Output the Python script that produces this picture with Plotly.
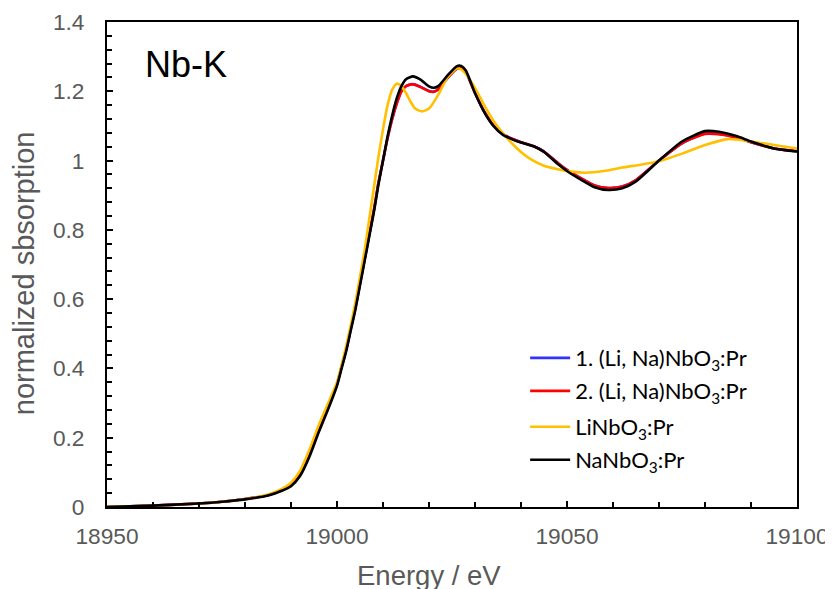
import plotly.graph_objects as go

# ---- data ----
energy_na = [18950, 18960, 18970, 18975, 18980, 18985, 18988, 18990, 18992, 18994, 18996, 18998,
             19000, 19001, 19002, 19003, 19004, 19005, 19006, 19007, 19008, 19009, 19010, 19011,
             19012, 19013, 19014, 19015, 19016.5, 19018, 19020, 19021, 19022, 19024, 19026, 19027,
             19028, 19030, 19032, 19034, 19036, 19038, 19040, 19043, 19045, 19048, 19050, 19053,
             19056, 19059, 19062, 19065, 19070, 19075, 19080, 19083, 19087, 19090, 19095, 19100]
na_nbo3 = [0.0, 0.004, 0.01, 0.015, 0.022, 0.033, 0.047, 0.06, 0.09, 0.145, 0.215, 0.28,
           0.35, 0.40, 0.45, 0.51, 0.57, 0.64, 0.71, 0.78, 0.85, 0.93, 1.0, 1.07,
           1.13, 1.18, 1.215, 1.235, 1.243, 1.235, 1.214, 1.21, 1.215, 1.245, 1.272, 1.273,
           1.26, 1.195, 1.14, 1.1, 1.075, 1.062, 1.052, 1.04, 1.025, 0.99, 0.97, 0.945,
           0.923, 0.915, 0.92, 0.94, 1.0, 1.055, 1.085, 1.083, 1.07, 1.055, 1.035, 1.026]

lina_2 = [0.0, 0.004, 0.01, 0.015, 0.023, 0.034, 0.049, 0.063, 0.096, 0.155, 0.228, 0.292,
          0.355, 0.405, 0.455, 0.515, 0.575, 0.645, 0.715, 0.785, 0.855, 0.935, 1.0, 1.065,
          1.12, 1.165, 1.2, 1.215, 1.22, 1.213, 1.2, 1.198, 1.205, 1.238, 1.265, 1.266,
          1.255, 1.195, 1.142, 1.102, 1.077, 1.063, 1.053, 1.04, 1.026, 0.993, 0.973, 0.949,
          0.928, 0.921, 0.925, 0.944, 1.0, 1.05, 1.077, 1.076, 1.066, 1.053, 1.035, 1.027]

lina_1 = [0.0, 0.004, 0.01, 0.015, 0.023, 0.034, 0.049, 0.063, 0.096, 0.154, 0.227, 0.291,
          0.355, 0.405, 0.455, 0.515, 0.575, 0.645, 0.715, 0.785, 0.855, 0.935, 1.0, 1.065,
          1.12, 1.165, 1.2, 1.215, 1.221, 1.214, 1.201, 1.199, 1.206, 1.238, 1.265, 1.266,
          1.255, 1.195, 1.142, 1.102, 1.077, 1.063, 1.053, 1.04, 1.026, 0.993, 0.973, 0.949,
          0.928, 0.921, 0.925, 0.944, 1.0, 1.05, 1.078, 1.077, 1.066, 1.053, 1.035, 1.027]

energy_li = [18950, 18960, 18970, 18980, 18985, 18988, 18990, 18992, 18994, 18996, 18998, 19000,
             19001, 19002, 19003, 19004, 19005, 19006, 19007, 19008, 19009, 19010, 19011, 19012,
             19013, 19014, 19015, 19016, 19017, 19018.5, 19020, 19022, 19024, 19026, 19027, 19028,
             19030, 19032, 19034, 19036, 19038, 19040, 19042, 19045, 19048, 19051, 19054, 19058,
             19062, 19066, 19070, 19075, 19080, 19085, 19090, 19095, 19100]
li_nbo3 = [0.0, 0.004, 0.01, 0.023, 0.036, 0.052, 0.07, 0.105, 0.165, 0.235, 0.297, 0.36,
           0.41, 0.465, 0.525, 0.59, 0.665, 0.74, 0.83, 0.92, 1.01, 1.09, 1.16, 1.205,
           1.222, 1.215, 1.195, 1.17, 1.15, 1.142, 1.15, 1.19, 1.24, 1.266, 1.263, 1.25,
           1.21, 1.16, 1.115, 1.08, 1.05, 1.025, 1.005, 0.985, 0.975, 0.968, 0.965, 0.97,
           0.98, 0.988, 0.998, 1.02, 1.045, 1.062, 1.055, 1.045, 1.035]

names = ["1. (Li, Na)NbO<sub>3</sub>:Pr", "2. (Li, Na)NbO<sub>3</sub>:Pr",
         "LiNbO<sub>3</sub>:Pr", "NaNbO<sub>3</sub>:Pr"]
colors = ["#3333FF", "#FF0000", "#FFC000", "#000000"]

x_tickvals = [18950, 19000, 19050, 19100]
y_tickvals = [0, 0.2, 0.4, 0.6, 0.8, 1.0, 1.2, 1.4]
y_ticktext = ["0", "0.2", "0.4", "0.6", "0.8", "1", "1.2", "1.4"]

series = [(energy_na, lina_1), (energy_na, lina_2), (energy_li, li_nbo3), (energy_na, na_nbo3)]
legend_ids = ["legend", "legend2", "legend3", "legend4"]
legend_y = [0.307, 0.239, 0.165, 0.097]

fig = go.Figure()
for (xs, ys), nm, c, lg in zip(series, names, colors, legend_ids):
    fig.add_trace(go.Scatter(x=xs, y=ys, mode="lines", name=nm, legend=lg,
                             line=dict(color=c, width=2.6, shape="spline", smoothing=0.6)))

tick_font = dict(family="Liberation Sans", size=22.7, color="#595959")
title_font = dict(family="Liberation Sans", size=27.5, color="#595959")
ytitle_font = dict(family="Liberation Sans", size=29, color="#595959")
leg_font = dict(family="Lato", size=22, color="#000000")

layout_legends = {}
for lg, ly in zip(legend_ids, legend_y):
    layout_legends[lg] = dict(x=0.606, y=ly, xanchor="left", yanchor="middle",
                              bgcolor="rgba(0,0,0,0)", font=leg_font, itemwidth=40)

fig.update_layout(
    width=833, height=589,
    margin=dict(l=99, r=44, t=14, b=90, autoexpand=False),
    paper_bgcolor="white", plot_bgcolor="white",
    showlegend=True,
    annotations=[
        dict(text="Nb-K", x=0.052, y=0.913, xref="paper", yref="paper",
             xanchor="left", yanchor="middle", showarrow=False,
             font=dict(family="Liberation Sans", size=36, color="#000000")),
        dict(text="normalized sbsorption", x=-0.121, y=0.481, xref="paper", yref="paper",
             xanchor="center", yanchor="middle", textangle=-90, showarrow=False,
             font=ytitle_font),
        dict(text="Energy / eV", x=0.4667, y=-0.142, xref="paper", yref="paper",
             xanchor="center", yanchor="middle", showarrow=False,
             font=title_font),
    ],
    **layout_legends,
)

fig.update_xaxes(
    range=[18950, 19100], tickvals=x_tickvals, ticktext=[str(v) for v in x_tickvals],
    ticks="inside", ticklen=6, tickwidth=1.5, tickcolor="black",
    minor=dict(dtick=10, tick0=18950, ticks="inside", ticklen=5, tickwidth=1.5, tickcolor="black"),
    showline=True, linecolor="black", linewidth=2, mirror=True,
    showgrid=False, zeroline=False, automargin=False, ticklabeloverflow="allow",
    tickfont=tick_font, ticklabelstandoff=8,
)
fig.update_yaxes(
    range=[0, 1.4], tickvals=y_tickvals, ticktext=y_ticktext,
    ticks="inside", ticklen=6, tickwidth=1.5, tickcolor="black",
    minor=dict(dtick=0.04, tick0=0, ticks="inside", ticklen=5, tickwidth=1.5, tickcolor="black"),
    showline=True, linecolor="black", linewidth=2, mirror=True,
    showgrid=False, zeroline=False, automargin=False,
    tickfont=tick_font, ticklabelstandoff=16,
)

fig.write_html("out.html")
